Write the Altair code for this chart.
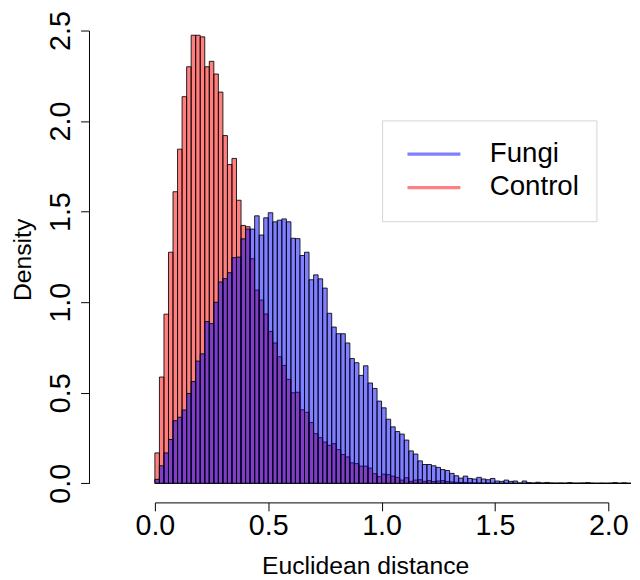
import altair as alt
import pandas as pd

bin_width = 0.02

fungi = [
    0.022, 0.097, 0.168, 0.242, 0.346, 0.365, 0.405, 0.496, 0.562, 0.675,
    0.715, 0.893, 0.882, 1.000, 1.112, 1.130, 1.163, 1.246, 1.249, 1.350,
    1.404, 1.404, 1.477, 1.371, 1.466, 1.494, 1.444, 1.453, 1.460, 1.444,
    1.353, 1.351, 1.258, 1.276, 1.124, 1.151, 1.129, 1.078, 0.939, 0.863,
    0.826, 0.826, 0.775, 0.689, 0.666, 0.596, 0.649, 0.554, 0.524, 0.454,
    0.417, 0.354, 0.312, 0.286, 0.272, 0.239, 0.179, 0.162, 0.124, 0.104,
    0.104, 0.097, 0.088, 0.076, 0.071, 0.055, 0.042, 0.029, 0.040, 0.027,
    0.024, 0.033, 0.024, 0.020, 0.027, 0.013, 0.011, 0.018, 0.011, 0.013,
    0.002, 0.013, 0.004, 0.002, 0.006, 0.002, 0.005, 0.002, 0.001, 0.002,
    0.001, 0.004, 0.001, 0.001, 0.002, 0.004, 0.001, 0.000, 0.001, 0.000,
    0.001, 0.004, 0.000, 0.003, 0.000,
]

control = [
    0.168, 0.587, 0.934, 1.276, 1.610, 1.845, 2.135, 2.300, 2.474, 2.474,
    2.465, 2.300, 2.330, 2.260, 2.160, 1.920, 1.760, 1.794, 1.563, 1.424,
    1.417, 1.240, 1.067, 1.012, 0.935, 0.839, 0.775, 0.699, 0.651, 0.574,
    0.500, 0.503, 0.406, 0.392, 0.336, 0.274, 0.252, 0.228, 0.210, 0.219,
    0.186, 0.159, 0.146, 0.113, 0.109, 0.095, 0.095, 0.084, 0.053, 0.037,
    0.051, 0.048, 0.040, 0.033, 0.018, 0.031, 0.011, 0.018, 0.020, 0.011,
    0.015, 0.010, 0.013, 0.015, 0.010, 0.008, 0.006, 0.004, 0.005, 0.003,
    0.002, 0.002, 0.001, 0.002, 0.001, 0.000, 0.000, 0.000, 0.000, 0.000,
    0.000, 0.000, 0.000, 0.000, 0.000, 0.000, 0.000, 0.000, 0.000, 0.000,
    0.000, 0.000, 0.000, 0.000, 0.000, 0.000, 0.000, 0.000, 0.000, 0.000,
    0.000, 0.000, 0.000, 0.000, 0.000,
]

series_names = ["Fungi", "Control"]
series_colors = ["#0000ff", "#ff0000"]          # drawn at 50% opacity
legend_colors = ["#8080ff", "#ff8080"]          # same colours at 50% on white
x_ticks = [0.0, 0.5, 1.0, 1.5, 2.0]
y_ticks = [0.0, 0.5, 1.0, 1.5, 2.0, 2.5]

FONT = "Liberation Sans"


def frame(name, vals):
    return pd.DataFrame({
        "group": name,
        "x0": [round(i * bin_width, 4) for i in range(len(vals))],
        "x1": [round((i + 1) * bin_width, 4) for i in range(len(vals))],
        "density": vals,
        "base": 0.0,
    })


df_control = frame("Control", control)
df_fungi = frame("Fungi", fungi)
color_of = dict(zip(series_names, series_colors))

x_enc = alt.X(
    "x0:Q",
    scale=alt.Scale(domain=[0, 2.0], nice=False, zero=False),
    axis=alt.Axis(
        values=x_ticks, format=".1f", title="Euclidean distance",
        offset=19.3, grid=False, domainColor="black", tickColor="black",
        tickSize=8.5, labelFontSize=29, labelFont=FONT, labelColor="black",
        labelPadding=1, labelFlush=False, labelOverlap=False,
        titleFont=FONT, titleFontSize=25, titleFontWeight="normal",
        titleColor="black", titleX=212.9, titleY=72,
        titleBaseline="alphabetic", titleAlign="center",
    ),
)
y_enc = alt.Y(
    "density:Q", stack=None,
    scale=alt.Scale(domain=[0, 2.5], nice=False),
    axis=alt.Axis(
        values=y_ticks, format=".1f", title="Density",
        offset=66.7, grid=False, domainColor="black", tickColor="black",
        tickSize=8.5, labelFontSize=29, labelFont=FONT, labelColor="black",
        labelAngle=270, labelAlign="center", labelBaseline="alphabetic",
        labelPadding=11.5, labelFlush=False, labelOverlap=False,
        titleFont=FONT, titleFontSize=25, titleFontWeight="normal",
        titleColor="black", titleAngle=270, titleX=-59.6, titleY=231.7,
        titleBaseline="alphabetic", titleAlign="center",
    ),
)

bar_style = dict(fillOpacity=0.5, stroke="black", strokeWidth=1, strokeOpacity=0.85)

control_layer = alt.Chart(df_control).mark_bar(
    fill=color_of["Control"], **bar_style
).encode(x=x_enc, x2="x1:Q", y=y_enc, y2="base:Q")

fungi_layer = alt.Chart(df_fungi).mark_bar(
    fill=color_of["Fungi"], **bar_style
).encode(x=x_enc, x2="x1:Q", y=y_enc, y2="base:Q")

# zero-length rules: draw nothing, but carry the line-style legend keys
legend_layer = alt.Chart(pd.concat([df_fungi, df_control])).mark_rule(
    strokeWidth=3.3
).encode(
    x=alt.X("x0:Q"),
    x2="x0:Q",
    y=alt.Y("density:Q"),
    stroke=alt.Stroke(
        "group:N",
        scale=alt.Scale(domain=series_names, range=legend_colors),
        legend=alt.Legend(
            title=None, orient="none", legendX=230, legendY=91,
            symbolType="stroke", symbolSize=2873, symbolStrokeWidth=3.3,
            labelFontSize=28, labelFont=FONT,
            labelColor="black", clipHeight=34, rowPadding=0, padding=17,
            symbolOffset=7, labelOffset=28, strokeColor="#d4d4d4",
            fillColor="white",
        ),
    ),
)

chart = alt.layer(control_layer, fungi_layer, legend_layer).properties(
    width=459,
    height=458.4,
    autosize=alt.AutoSizeParams(type="none"),
    padding={"left": 148.7, "top": 19.3, "right": 24, "bottom": 92},
    background="white",
).configure_view(strokeOpacity=0)

chart.save("out.html", embed_options={"renderer": "svg", "actions": False})
